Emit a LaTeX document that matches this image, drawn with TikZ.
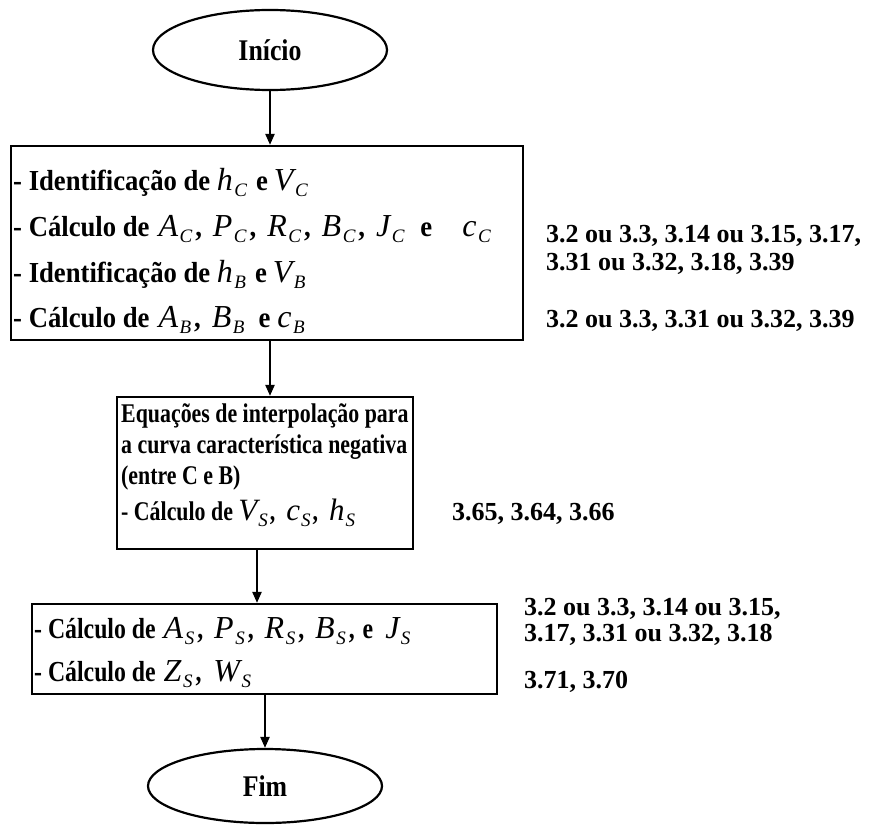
\documentclass[tikz,border=0pt]{standalone}
\usepackage{fontspec}
\setmainfont{Liberation Serif}
\newfontfamily\fa[FakeStretch=0.92]{Liberation Serif}
\newfontfamily\fb[FakeStretch=0.81]{Liberation Serif}
\newfontfamily\fc[FakeStretch=0.82]{Liberation Serif}
\newfontfamily\ft[FakeStretch=0.86]{Liberation Serif}
\usetikzlibrary{shapes.geometric,arrows.meta}
\newcommand{\mv}[2]{{\rmfamily\fontsize{32}{32}\selectfont\mdseries\itshape #1}\kern1.5pt\raisebox{-6pt}{\rmfamily\fontsize{19}{19}\selectfont\mdseries\itshape #2}}
\newcommand{\mvs}[2]{{\rmfamily\fontsize{31}{31}\selectfont\mdseries\itshape #1}\kern1pt\raisebox{-6pt}{\rmfamily\fontsize{19}{19}\selectfont\mdseries\itshape #2}}
\newcommand{\cm}{\kern3pt,\hspace{11pt}}
\tikzset{
  flowbox/.style={draw, line width=2.2pt, rectangle, inner sep=0pt},
  term/.style={draw, ellipse, line width=2.2pt, inner sep=0pt, font=\ft\fontsize{30}{30}\selectfont\bfseries},
  lna/.style={anchor=base west, inner sep=0pt, font=\fa\fontsize{29}{30}\selectfont\bfseries},
  lnb/.style={anchor=base west, inner sep=0pt, font=\fb\fontsize{27}{30}\selectfont\bfseries},
  lnc/.style={anchor=base west, inner sep=0pt, font=\fc\fontsize{29}{30}\selectfont\bfseries},
  eqref/.style={anchor=base west, inner sep=0pt, font=\fontsize{26}{30}\selectfont\bfseries},
  flow/.style={-{Triangle[length=11pt,width=9pt]}, line width=2.2pt}
}
\begin{document}
\begin{tikzpicture}[x=1pt,y=1pt]
\useasboundingbox (0,0) rectangle (882,-824);
% terminals
\node[term, minimum width=234pt, minimum height=80pt] (ini) at (270,-50) {Início};
\node[term, minimum width=234pt, minimum height=74pt] (fim) at (265,-786) {Fim};
% boxes
\node[flowbox, minimum width=512pt, minimum height=194pt] (b1) at (267,-243) {};
\node[flowbox, minimum width=296pt, minimum height=152pt] (b2) at (265,-473) {};
\node[flowbox, minimum width=465pt, minimum height=90pt] (b3) at (264.5,-649) {};
\coordinate (a3) at (257,0);
% box 1 text
\node[lna] (b1l1) at (13,-190) {- Identificação de \mv{h}{C}\hspace{9pt}e\hspace{6pt}\mv{V}{C}};
\node[lna] (b1l2) at (13,-236) {- Cálculo de\hspace{9pt}\mv{A}{C}\cm\mv{P}{C}\cm\mv{R}{C}\cm\mv{B}{C}\cm\mv{J}{C}\hspace{16pt}e\hspace{30pt}\mv{c}{C}};
\node[lna] (b1l3) at (13,-282) {- Identificação de \mv{h}{B}\hspace{9pt}e\hspace{6pt}\mv{V}{B}};
\node[lna] (b1l4) at (13,-327) {- Cálculo de\hspace{9pt}\mv{A}{B}\cm\mv{B}{B}\hspace{14pt}e\hspace{7pt}\mv{c}{B}};
% box 2 text
\node[lnb] (b2l1) at (121,-422) {Equações de interpolação para};
\node[lnb] (b2l2) at (121,-453) {a curva característica negativa};
\node[lnb] (b2l3) at (121,-484) {(entre C e B)};
\node[lnb] (b2l4) at (121,-520) {- Cálculo de \mvs{V}{S}\kern2pt,\hspace{11pt}\mvs{c}{S}\kern2pt,\hspace{11pt}\mvs{h}{S}};
% box 3 text
\node[lnc] (b3l1) at (34,-638) {- Cálculo de\hspace{8pt}\mv{A}{S}\cm\mv{P}{S}\cm\mv{R}{S}\cm\mv{B}{S}\kern3pt,\hspace{8pt}e\hspace{12pt}\mv{J}{S}};
\node[lnc] (b3l2) at (34,-681) {- Cálculo de\hspace{8pt}\mv{Z}{S}\kern3pt,\hspace{12pt}\mv{W}{S}};
% equation references
\node[eqref] (r1) at (546,-242) {3.2 ou 3.3, 3.14 ou 3.15, 3.17,};
\node[eqref] (r2) at (546,-270) {3.31 ou 3.32, 3.18, 3.39};
\node[eqref] (r3) at (546,-327) {3.2 ou 3.3, 3.31 ou 3.32, 3.39};
\node[eqref] (r4) at (452,-520) {3.65, 3.64, 3.66};
\node[eqref] (r5) at (524,-615) {3.2 ou 3.3, 3.14 ou 3.15,};
\node[eqref] (r6) at (524,-641) {3.17, 3.31 ou 3.32, 3.18};
\node[eqref] (r7) at (524,-688) {3.71, 3.70};
% connectors
\draw[flow] (ini.south) -- (ini.south |- b1.north);
\draw[flow] (ini.south |- b1.south) -- (ini.south |- b2.north);
\draw[flow] (a3 |- b2.south) -- (a3 |- b3.north);
\draw[flow] (fim.north |- b3.south) -- (fim.north);
\end{tikzpicture}
\end{document}
